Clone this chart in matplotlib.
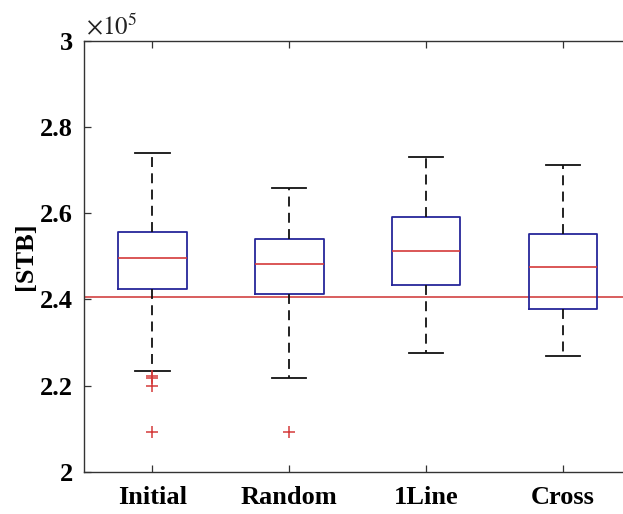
import matplotlib
matplotlib.use("Agg")
import matplotlib.pyplot as plt
from matplotlib.ticker import FuncFormatter, FixedLocator

# Summary statistics of |STB| for each strategy
categories = ["Initial", "Random", "1Line", "Cross"]
q1 = [242430, 241200, 243290, 237720]
median = [249690, 248230, 251170, 247600]
q3 = [255580, 254090, 259050, 255180]
whisker_low = [223420, 221860, 227520, 226900]
whisker_high = [274030, 265780, 272970, 271110]
outliers = [
    [222360, 221740, 219980, 209350],
    [209350],
    [],
    [],
]
reference_level = 240640
y_ticks = [200000, 220000, 240000, 260000, 280000, 300000]

plt.rcParams["font.family"] = ["Liberation Serif", "DejaVu Serif"]
plt.rcParams["mathtext.fontset"] = "stix"

fig = plt.figure(figsize=(6.23, 5.14), dpi=100)
W, H = 623, 514
left_px, right_px, top_px, bottom_px = 84, 631.5, 40.7, 472
ax = fig.add_axes([left_px / W, 1 - bottom_px / H,
                   (right_px - left_px) / W, (bottom_px - top_px) / H])

stats = []
for i, name in enumerate(categories):
    stats.append(dict(label=name, q1=q1[i], med=median[i], q3=q3[i],
                      whislo=whisker_low[i], whishi=whisker_high[i],
                      fliers=outliers[i]))

box_color = "#26269a"
red = "#d43a3a"
ax.bxp(stats, positions=range(1, len(categories) + 1), widths=0.5,
       showfliers=True,
       boxprops=dict(color=box_color, linewidth=1.3),
       medianprops=dict(color=red, linewidth=1.2),
       whiskerprops=dict(color="#111111", linewidth=1.3,
                         linestyle=(0, (5.5, 3.5))),
       capprops=dict(color="#111111", linewidth=1.3),
       capwidths=0.25,
       flierprops=dict(marker="+", markeredgecolor=red, markersize=8,
                       markeredgewidth=1.1, linestyle="none"))

ax.axhline(reference_level, color="#d65050", linewidth=1.3, zorder=0.5)

ax.set_xlim(0.5, 4.5)
ax.set_ylim(200000, 300000)
ax.yaxis.set_major_locator(FixedLocator(y_ticks))
ax.yaxis.set_major_formatter(FuncFormatter(lambda v, p: f"{v / 1e5:g}"))
ax.set_xticks(range(1, len(categories) + 1))
ax.set_xticklabels(categories)

for lbl in ax.get_xticklabels() + ax.get_yticklabels():
    lbl.set_fontweight("bold")
    lbl.set_fontsize(19)

ax.tick_params(axis="both", direction="in", length=5, width=0.9,
               color="#333333", top=True, right=True)
ax.tick_params(axis="x", pad=10)
ax.tick_params(axis="y", pad=8)
for s in ax.spines.values():
    s.set_color("#333333")
    s.set_linewidth(1.0)

ax.set_ylabel("[STB]", fontsize=19, fontweight="bold", labelpad=2)

fig.text(86 / W, 1 - 34 / H, r"$\times 10^{5}$", fontsize=18,
         ha="left", va="baseline", color="#222222")

fig.savefig("out.png", dpi=100)
